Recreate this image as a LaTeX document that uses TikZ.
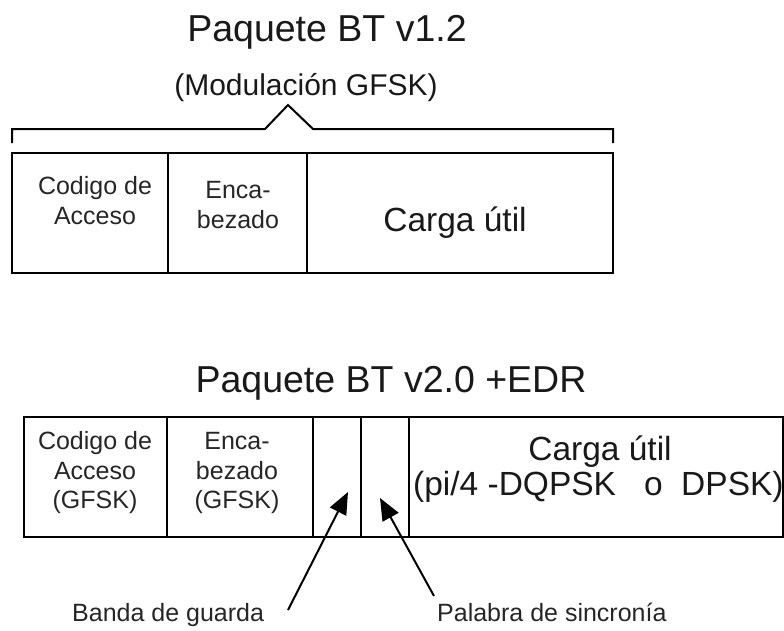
\documentclass[tikz,border=0pt]{standalone}
\usepackage{fontspec}
\setmainfont{Liberation Sans}
\usetikzlibrary{arrows.meta}
\begin{document}
\begin{tikzpicture}[x=1pt,y=-1pt,
  box/.style={draw, line width=2pt, inner sep=0pt, outer sep=0pt, anchor=north west},
  small/.style={anchor=base, inner sep=0pt, font=\fontsize{25}{30}\selectfont, text=black!85},
  big/.style={anchor=base, inner sep=0pt, font=\fontsize{33.5}{40}\selectfont, text=black!90},
  ttl/.style={anchor=base, inner sep=0pt, font=\fontsize{37.5}{45}\selectfont, text=black!90},
  sub/.style={anchor=base, inner sep=0pt, font=\fontsize{30}{36}\selectfont, text=black!90},
  arr/.style={line width=2pt, -{Triangle[length=22pt,width=18pt]}},
  brace/.style={line width=2pt}]
\useasboundingbox (0,0) rectangle (784,630);

% ---- top packet ----
\node[ttl] (title1) at (327,41) {Paquete BT v1.2};
\node[sub] (mod1) at (306,95) {(Modulación GFSK)};
\draw[brace] (12,143) -- (12,129) -- (265,129) -- (288,105) -- (313,129) -- (613,129) -- (613,143);

\node[box, minimum width=156pt, minimum height=120pt] (c1) at (12,153) {};
\node[box, minimum width=139pt, minimum height=120pt] (c2) at (168,153) {};
\node[box, minimum width=306pt, minimum height=120pt] (c3) at (307,153) {};

\node[small] (c1a) at (95,194) {Codigo de};
\node[small] (c1b) at (95,224) {Acceso};
\node[small] (c2a) at (238,198) {Enca-};
\node[small] (c2b) at (238,228) {bezado};
\node[big] (c3a) at (455,231) {Carga útil};

% ---- bottom packet ----
\node[ttl] (title2) at (391,392) {Paquete BT v2.0 +EDR};

\node[box, minimum width=143pt, minimum height=120pt] (d1) at (24,417) {};
\node[box, minimum width=146pt, minimum height=120pt] (d2) at (167,417) {};
\node[box, minimum width=48pt, minimum height=120pt] (d3) at (313,417) {};
\node[box, minimum width=48pt, minimum height=120pt] (d4) at (361,417) {};
\node[box, minimum width=374pt, minimum height=120pt] (d5) at (409,417) {};

\node[small] (d1a) at (95,449) {Codigo de};
\node[small] (d1b) at (95,479) {Acceso};
\node[small] (d1c) at (95,508) {(GFSK)};
\node[small] (d2a) at (237,449) {Enca-};
\node[small] (d2b) at (237,479) {bezado};
\node[small] (d2c) at (237,508) {(GFSK)};
\node[big] (d5a) at (600,460) {Carga útil};
\node[big, anchor=base west] (d5b) at (413,495) {(pi/4 -DQPSK\ \ \ o\ \ DPSK)};

% ---- labels and arrows ----
\node[small, anchor=base west] (lg) at (72,621) {Banda de guarda};
\node[small, anchor=base west] (ls) at (437,621) {Palabra de sincronía};
\coordinate (gtail) at (288,610);
\coordinate (gtip) at (348,492);
\coordinate (stail) at (434,596);
\coordinate (stip) at (380,498);
\draw[arr] (gtail) -- (gtip);
\draw[arr] (stail) -- (stip);
\end{tikzpicture}
\end{document}
